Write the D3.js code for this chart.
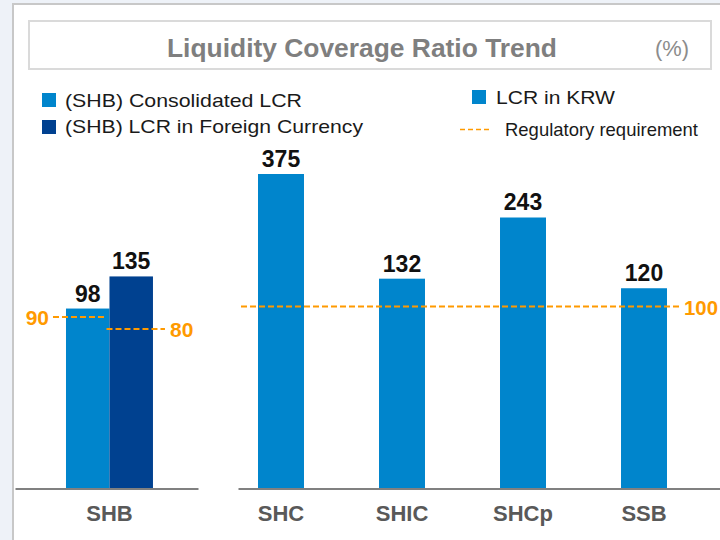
<!DOCTYPE html>
<html>
<head>
<meta charset="utf-8">
<script src="https://cdn.jsdelivr.net/npm/d3@7"></script>
<style>
  html, body { margin: 0; padding: 0; background: #eef2f8; }
  svg { display: block; font-family: Arial, "Liberation Sans", sans-serif; }
</style>
</head>
<body>
<svg id="chart" width="720" height="540"></svg>
<script>
// ---- data ----
const titleText = "Liquidity Coverage Ratio Trend";
const unitText = "(%)";
const shbCategory = ["SHB"];
const shbSeries = ["(SHB) Consolidated LCR", "(SHB) LCR in Foreign Currency"];
const shbValues = [98, 135];
const shbRequirements = [90, 80];
const subsidiaries = ["SHC", "SHIC", "SHCp", "SSB"];
const subsidiaryValues = [375, 132, 243, 120];
const krwSeries = "LCR in KRW";
const requirementLabel = "Regulatory requirement";
const krwRequirement = 100;

// ---- styles ----
const lightBlue = "#0085cc";
const darkBlue = "#004190";
const orange = "#ff9a00";

const svg = d3.select("#chart");

// background panel
svg.append("rect").attr("x", 0).attr("y", 0).attr("width", 720).attr("height", 540).attr("fill", "#eef2f8");
svg.append("rect").attr("x", 13).attr("y", 4).attr("width", 720).attr("height", 540)
  .attr("fill", "#ffffff").attr("stroke", "#c8c8c8").attr("stroke-width", 2);

// title box
svg.append("rect").attr("x", 29).attr("y", 21).attr("width", 682).attr("height", 48)
  .attr("fill", "#fff").attr("stroke", "#dadada").attr("stroke-width", 2);
svg.append("text").attr("x", 362).attr("y", 57).attr("text-anchor", "middle")
  .attr("font-size", 26).attr("font-weight", "bold").attr("fill", "#7f7f7f")
  .attr("textLength", 390).attr("lengthAdjust", "spacingAndGlyphs").text(titleText);
svg.append("text").attr("x", 655).attr("y", 56)
  .attr("font-size", 22).attr("fill", "#8c8c8c")
  .attr("textLength", 34).attr("lengthAdjust", "spacingAndGlyphs").text(unitText);

// ---- scales ----
// compressed (logarithmic) value axis, shared by both panels
const y = d3.scaleLog().domain([16.2, 375]).range([489, 174]);
const base = y(16.2);

const xShb = d3.scaleBand().domain(shbCategory).range([15, 198])
  .paddingInner(0).paddingOuter(0.552).align(0.531);
const xShbSub = d3.scaleBand().domain(shbSeries).range([0, xShb.bandwidth()]);
const xSub = d3.scaleBand().domain(subsidiaries).range([238, 720])
  .paddingInner(0.62).paddingOuter(0.3017).align(0.274);

// ---- SHB panel ----
const shbData = shbSeries.map((s, i) => ({ series: s, value: shbValues[i], req: shbRequirements[i] }));
const shbColor = d3.scaleOrdinal().domain(shbSeries).range([lightBlue, darkBlue]);

const gShb = svg.append("g");
gShb.selectAll("rect.bar").data(shbData).join("rect")
  .attr("class", "bar")
  .attr("x", d => xShb("SHB") + xShbSub(d.series))
  .attr("y", d => y(d.value))
  .attr("width", xShbSub.bandwidth())
  .attr("height", d => base - y(d.value))
  .attr("fill", d => shbColor(d.series));

gShb.selectAll("text.val").data(shbData).join("text")
  .attr("class", "val")
  .attr("x", d => xShb("SHB") + xShbSub(d.series) + xShbSub.bandwidth() / 2)
  .attr("y", d => y(d.value) - 7)
  .attr("text-anchor", "middle").attr("font-size", 23).attr("font-weight", "bold").attr("fill", "#111")
  .text(d => d.value);

// SHB requirement lines
const reqCons = shbData[0], reqFx = shbData[1];
const consX = xShb("SHB") + xShbSub(reqCons.series);
const fxX = xShb("SHB") + xShbSub(reqFx.series);
const bw = xShbSub.bandwidth();
gShb.append("line").attr("x1", consX - 13).attr("x2", consX + bw - 4)
  .attr("y1", y(reqCons.req)).attr("y2", y(reqCons.req))
  .attr("stroke", orange).attr("stroke-width", 2).attr("stroke-dasharray", "6,3");
gShb.append("text").attr("x", consX - 17).attr("y", y(reqCons.req) + 8)
  .attr("text-anchor", "end").attr("font-size", 21).attr("font-weight", "bold").attr("fill", orange)
  .text(reqCons.req);
gShb.append("line").attr("x1", fxX - 3).attr("x2", fxX + bw + 12)
  .attr("y1", y(reqFx.req)).attr("y2", y(reqFx.req))
  .attr("stroke", orange).attr("stroke-width", 2).attr("stroke-dasharray", "6,3");
gShb.append("text").attr("x", fxX + bw + 17).attr("y", y(reqFx.req) + 8)
  .attr("font-size", 21).attr("font-weight", "bold").attr("fill", orange)
  .text(reqFx.req);

// ---- subsidiaries panel ----
const subData = subsidiaries.map((c, i) => ({ cat: c, value: subsidiaryValues[i] }));
const gSub = svg.append("g");
gSub.selectAll("rect.bar").data(subData).join("rect")
  .attr("class", "bar")
  .attr("x", d => xSub(d.cat))
  .attr("y", d => y(d.value))
  .attr("width", xSub.bandwidth())
  .attr("height", d => base - y(d.value))
  .attr("fill", lightBlue);
gSub.selectAll("text.val").data(subData).join("text")
  .attr("class", "val")
  .attr("x", d => xSub(d.cat) + xSub.bandwidth() / 2)
  .attr("y", d => y(d.value) - 7)
  .attr("text-anchor", "middle").attr("font-size", 23).attr("font-weight", "bold").attr("fill", "#111")
  .text(d => d.value);

// 100 requirement line
gSub.append("line").attr("x1", 241).attr("x2", 681)
  .attr("y1", y(krwRequirement)).attr("y2", y(krwRequirement))
  .attr("stroke", orange).attr("stroke-width", 2).attr("stroke-dasharray", "6,3");
gSub.append("text").attr("x", 684).attr("y", y(krwRequirement) + 8)
  .attr("font-size", 20).attr("font-weight", "bold").attr("fill", orange)
  .attr("textLength", 34).attr("lengthAdjust", "spacingAndGlyphs")
  .text(krwRequirement);

// ---- axes ----
function styleAxis(g) {
  g.select(".domain").attr("stroke", "#808080").attr("stroke-width", 2);
  g.selectAll("text").attr("font-size", 22).attr("font-weight", "bold").attr("fill", "#595959")
    .attr("font-family", "Arial, 'Liberation Sans', sans-serif");
}
svg.append("g").attr("transform", "translate(0,488.5)")
  .call(d3.axisBottom(xShb).tickSize(0).tickSizeOuter(0).tickPadding(17))
  .call(styleAxis);
svg.append("g").attr("transform", "translate(0,488.5)")
  .call(d3.axisBottom(xSub).tickSize(0).tickSizeOuter(0).tickPadding(17))
  .call(styleAxis);

// ---- legends ----
const legL = svg.append("g");
const legLWidths = [237, 298];
shbSeries.forEach((s, i) => {
  legL.append("rect").attr("x", 42).attr("y", 93 + i * 27).attr("width", 14).attr("height", 14)
    .attr("fill", shbColor(s));
  legL.append("text").attr("x", 65).attr("y", 107 + i * 26)
    .attr("font-size", 19).attr("fill", "#1a1a1a")
    .attr("textLength", legLWidths[i]).attr("lengthAdjust", "spacingAndGlyphs").text(s);
});
const legR = svg.append("g");
legR.append("rect").attr("x", 472).attr("y", 90).attr("width", 14).attr("height", 14).attr("fill", lightBlue);
legR.append("text").attr("x", 496).attr("y", 104).attr("font-size", 19).attr("fill", "#1a1a1a")
  .attr("textLength", 119).attr("lengthAdjust", "spacingAndGlyphs").text(krwSeries);
legR.append("line").attr("x1", 460).attr("x2", 492).attr("y1", 129.5).attr("y2", 129.5)
  .attr("stroke", orange).attr("stroke-width", 1.5).attr("stroke-dasharray", "5,3");
legR.append("text").attr("x", 505).attr("y", 136).attr("font-size", 19).attr("fill", "#1a1a1a")
  .attr("textLength", 193).attr("lengthAdjust", "spacingAndGlyphs").text(requirementLabel);
</script>
</body>
</html>
